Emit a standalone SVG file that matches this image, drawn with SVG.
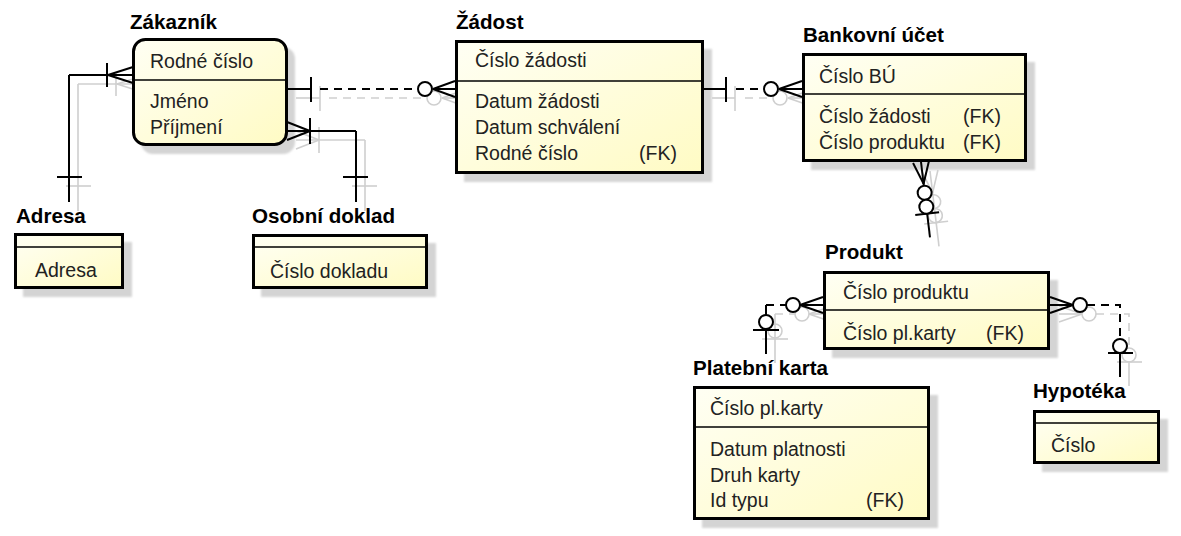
<svg xmlns="http://www.w3.org/2000/svg" xmlns:xlink="http://www.w3.org/1999/xlink" width="1181" height="536" viewBox="0 0 1181 536">
<style>
.lbl{font-family:"Liberation Sans",Arial,sans-serif;font-weight:bold;font-size:20.6px;fill:#000}
.att{font-family:"Liberation Sans",Arial,sans-serif;font-size:19.5px;fill:#222}
.box{fill:url(#fillg);stroke:#000;stroke-width:3}
.div{stroke:#000;stroke-width:1.6}
.shd{fill:#d4d4d4;filter:url(#blur)}
.conn{stroke:#000;stroke-width:2;fill:#fff}
.cshd{stroke:#cfcfcf;stroke-width:1.6;fill:none}
.dash{stroke-dasharray:8 6}
</style>
<defs>
<linearGradient id="fillg" x1="0" y1="0" x2="1" y2="1">
<stop offset="0" stop-color="#fffff4"/>
<stop offset="1" stop-color="#fffbc4"/>
</linearGradient>
<filter id="blur" x="-10%" y="-10%" width="120%" height="120%"><feGaussianBlur stdDeviation="1.2"/></filter>
<g id="c1">
<line x1="133" y1="75" x2="69" y2="75"/>
<line x1="69" y1="75" x2="69" y2="202"/>
<line x1="107" y1="63" x2="107" y2="87"/>
<line x1="108" y1="75" x2="133" y2="67"/>
<line x1="108" y1="75" x2="133" y2="83"/>
<line x1="57" y1="177" x2="82" y2="177"/>
</g>
<g id="c2">
<line x1="287" y1="131" x2="356" y2="131"/>
<line x1="356" y1="131" x2="356" y2="202"/>
<line x1="310" y1="118" x2="310" y2="144"/>
<line x1="310" y1="131" x2="287" y2="122"/>
<line x1="310" y1="131" x2="287" y2="140"/>
<line x1="343" y1="177" x2="368" y2="177"/>
</g>
<g id="c3">
<line x1="287" y1="89" x2="311" y2="89"/>
<line x1="311" y1="77" x2="311" y2="102"/>
<line class="dash" x1="320" y1="89" x2="418" y2="89"/>
<line x1="433" y1="89" x2="455" y2="89"/>
<line x1="433" y1="89" x2="455" y2="81"/>
<line x1="433" y1="89" x2="455" y2="97"/>
<circle cx="425" cy="89" r="7"/>
</g>
<g id="c4">
<line x1="703" y1="89" x2="726" y2="89"/>
<line x1="726" y1="77" x2="726" y2="102"/>
<line class="dash" x1="736" y1="89" x2="764" y2="89"/>
<line x1="779" y1="89" x2="802" y2="89"/>
<line x1="779" y1="89" x2="802" y2="81"/>
<line x1="779" y1="89" x2="802" y2="97"/>
<circle cx="771" cy="89" r="7"/>
</g>
<g id="c5">
<g transform="translate(921 162) rotate(-6.8)">
<line x1="0" y1="0" x2="0" y2="76"/>
<line x1="-8" y1="0" x2="0" y2="22"/>
<line x1="8" y1="0" x2="0" y2="22"/>
<line x1="-12" y1="52" x2="12" y2="52"/>
<circle cx="0" cy="31" r="7"/>
<circle cx="0" cy="45" r="7"/>
</g>
</g>
<g id="c6">
<line x1="823" y1="305" x2="800" y2="305"/>
<line x1="823" y1="297" x2="800" y2="305"/>
<line x1="823" y1="313" x2="800" y2="305"/>
<line class="dash" x1="766" y1="305" x2="786" y2="305"/>
<line x1="766" y1="305" x2="766" y2="354"/>
<line x1="753" y1="330" x2="779" y2="330"/>
<circle cx="793" cy="305" r="7"/>
<circle cx="766" cy="322" r="7"/>
</g>
<g id="c7">
<line x1="1050" y1="305" x2="1073" y2="305"/>
<line x1="1050" y1="297" x2="1073" y2="305"/>
<line x1="1050" y1="313" x2="1073" y2="305"/>
<path class="dash" d="M1087 305 H1120 V339" fill="none"/>
<line x1="1120" y1="352" x2="1120" y2="377"/>
<line x1="1108" y1="353" x2="1133" y2="353"/>
<circle cx="1080" cy="305" r="7"/>
<circle cx="1120" cy="346" r="7"/>
</g>
</defs>

<g id="connectors">
<g class="cshd" transform="translate(9 9)">
<use xlink:href="#c1"/><use xlink:href="#c2"/><use xlink:href="#c3"/><use xlink:href="#c4"/><use xlink:href="#c5"/><use xlink:href="#c6"/><use xlink:href="#c7"/>
</g>
</g>

<g id="zakaznik">
<rect class="shd" x="141" y="47" width="154" height="107" rx="12"/>
<rect class="box" x="133.5" y="39.5" width="153" height="105" rx="12"/>
<line class="div" x1="135" y1="80" x2="285" y2="80"/>
<text class="lbl" x="130" y="29">Zákazník</text>
<text class="att" x="150" y="68">Rodné číslo</text>
<text class="att" x="150" y="108">Jméno</text>
<text class="att" x="150" y="134">Příjmení</text>
</g>

<g id="zadost">
<rect class="shd" x="464" y="49" width="248" height="133"/>
<rect class="box" x="456.5" y="41.5" width="246" height="131"/>
<line class="div" x1="458" y1="81" x2="701" y2="81"/>
<text class="lbl" x="456" y="29">Žádost</text>
<text class="att" x="475" y="67">Číslo žádosti</text>
<text class="att" x="475" y="108">Datum žádosti</text>
<text class="att" x="475" y="134">Datum schválení</text>
<text class="att" x="475" y="160">Rodné číslo</text>
<text class="att" x="639" y="160">(FK)</text>
</g>

<g id="bankovni-ucet">
<rect class="shd" x="811" y="62" width="224" height="108"/>
<rect class="box" x="803.5" y="54.5" width="222" height="106"/>
<line class="div" x1="805" y1="94" x2="1024" y2="94"/>
<text class="lbl" x="803" y="42">Bankovní účet</text>
<text class="att" x="819" y="83">Číslo BÚ</text>
<text class="att" x="819" y="123">Číslo žádosti</text>
<text class="att" x="963" y="123">(FK)</text>
<text class="att" x="819" y="149">Číslo produktu</text>
<text class="att" x="963" y="149">(FK)</text>
</g>

<g id="produkt">
<rect class="shd" x="832" y="280" width="226" height="78"/>
<rect class="box" x="824.5" y="272.5" width="224" height="76"/>
<line class="div" x1="826" y1="310" x2="1047" y2="310"/>
<text class="lbl" x="825" y="259">Produkt</text>
<text class="att" x="843" y="299">Číslo produktu</text>
<text class="att" x="843" y="340">Číslo pl.karty</text>
<text class="att" x="986" y="340">(FK)</text>
</g>

<g id="platebni-karta">
<rect class="shd" x="702" y="395" width="236" height="133"/>
<rect class="box" x="694.5" y="387.5" width="234" height="131"/>
<line class="div" x1="696" y1="427" x2="927" y2="427"/>
<text class="lbl" x="693" y="375">Platební karta</text>
<text class="att" x="710" y="415">Číslo pl.karty</text>
<text class="att" x="710" y="456">Datum platnosti</text>
<text class="att" x="710" y="482">Druh karty</text>
<text class="att" x="710" y="507">Id typu</text>
<text class="att" x="866" y="507">(FK)</text>
</g>

<g id="hypoteka">
<rect class="shd" x="1042" y="419" width="126" height="53"/>
<rect class="box" x="1034.5" y="411.5" width="124" height="51"/>
<line class="div" x1="1036" y1="423" x2="1157" y2="423"/>
<text class="lbl" x="1033" y="398">Hypotéka</text>
<text class="att" x="1051" y="452">Číslo</text>
</g>

<g id="adresa">
<rect class="shd" x="23" y="242" width="109" height="55"/>
<rect class="box" x="15.5" y="234.5" width="107" height="53"/>
<line class="div" x1="17" y1="247" x2="121" y2="247"/>
<text class="lbl" x="16" y="223">Adresa</text>
<text class="att" x="35" y="277">Adresa</text>
</g>

<g id="osobni-doklad">
<rect class="shd" x="261" y="243" width="175" height="54"/>
<rect class="box" x="253.5" y="235.5" width="173" height="52"/>
<line class="div" x1="255" y1="247" x2="425" y2="247"/>
<text class="lbl" x="252" y="223">Osobní doklad</text>
<text class="att" x="270" y="278">Číslo dokladu</text>
</g>

<g id="connectors-main" class="conn">
<use xlink:href="#c1"/><use xlink:href="#c2"/><use xlink:href="#c3"/><use xlink:href="#c4"/><use xlink:href="#c5"/><use xlink:href="#c6"/><use xlink:href="#c7"/>
</g>
</svg>
